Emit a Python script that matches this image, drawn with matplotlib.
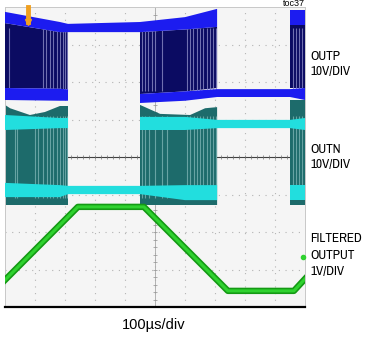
import numpy as np
import matplotlib.pyplot as plt
from matplotlib import font_manager
from matplotlib.font_manager import FontProperties

# time in microseconds (100us/div, 10 div), levels in screen divisions (8 div)
nan = np.nan

# OUTP (10V/div): high rail band, low rail band, switching fill
outp_hi_t = [0, 183, 210, 450, 600, 707, 830, 950, 1000]
outp_hi_top = [7.87, 7.60, 7.55, 7.60, 7.73, 7.95, nan, 7.92, 7.92]
outp_hi_bot = [7.57, 7.33, 7.33, 7.33, 7.40, 7.47, nan, 7.52, 7.52]
outp_lo_t = [0, 183, 210, 330, 450, 600, 707, 950, 1000]
outp_lo_top = [5.84, 5.82, 5.80, nan, 5.68, 5.75, 5.81, 5.81, 5.84]
outp_lo_bot = [5.52, 5.50, 5.50, nan, 5.44, 5.50, 5.60, 5.60, 5.52]
outp_fill_t = [0, 183, 210, 330, 450, 600, 707, 830, 950, 1000]
outp_fill_top = [7.57, 7.33, 7.33, nan, 7.33, 7.40, 7.47, nan, 7.52, 7.52]
outp_fill_bot = [5.84, 5.82, 5.80, nan, 5.68, 5.75, 5.84, nan, 5.84, 5.84]

# OUTN (10V/div)
outn_hi_t = [0, 183, 210, 330, 450, 600, 707, 950, 1000]
outn_hi_top = [5.12, 5.04, 5.04, nan, 5.07, 5.07, 4.99, 4.99, 5.04]
outn_hi_bot = [4.72, 4.77, 4.77, nan, 4.72, 4.72, 4.77, 4.77, 4.72]
outn_lo_t = [0, 183, 210, 450, 600, 707, 830, 950, 1000]
outn_lo_top = [3.31, 3.25, 3.23, 3.23, 3.25, 3.25, nan, 3.25, 3.25]
outn_lo_bot = [2.93, 2.93, 3.01, 3.01, 2.85, 2.85, nan, 2.85, 2.85]
outn_fill_t = [0, 17, 83, 133, 183, 210, 330, 450, 517, 617, 667, 707, 830, 950, 1000]
outn_fill_top = [5.39, 5.30, 5.12, 5.20, 5.36, 5.36, nan, 5.39, 5.15, 5.12, 5.30, 5.33, nan, 5.52, 5.52]
outn_fill_bot = [2.72, 2.72, 2.72, 2.72, 2.72, 2.72, nan, 2.72, 2.72, 2.72, 2.72, 2.72, nan, 2.72, 2.72]

# visible thin pulses (lighter stripes) in the switching regions
stripe_t = [13, 127, 137, 150, 160, 173, 183, 193, 200, 207,
            457, 467, 477, 490, 500, 523, 607, 617, 627, 640, 650, 660,
            673, 683, 693, 703, 960, 970, 980, 990]
outn_stripe_t = [33, 40, 100, 110, 127, 140, 150, 160, 173, 183, 193, 200, 207,
                 457, 467, 480, 500, 523, 540, 607, 617, 630, 640, 650, 660,
                 673, 683, 693, 703, 960, 970, 980, 990]

# filtered output (1V/div)
filt_t = [0, 243, 463, 743, 963, 1000]
filt_d = [0.72, 2.67, 2.67, 0.43, 0.43, 0.75]

# the scope labels use a narrow sans; look for one, else shrink the regular one
narrow_file = None
for f in font_manager.fontManager.ttflist:
    if 'Narrow' in f.name and f.style == 'normal' and f.weight in (400, 'normal', 'regular'):
        narrow_file = f.fname
        break
if narrow_file is None:
    for f in font_manager.fontManager.ttflist:
        if f.name in ('DejaVu Sans', 'Noto Sans', 'Open Sans', 'Roboto') and 'ondensed' in str(f.stretch) \
                and f.style == 'normal' and f.weight in (400, 'normal', 'regular'):
            narrow_file = f.fname
            break
if narrow_file:
    lab_font = FontProperties(fname=narrow_file, size=9.5)
else:
    lab_font = FontProperties(family='Liberation Sans', size=8.3)
bot_font = FontProperties(family='Liberation Sans', size=10.5)
toc_font = FontProperties(family='Liberation Sans', size=6.5)

W, H = 365, 337
fig = plt.figure(figsize=(W / 100, H / 100), dpi=100)
ax = fig.add_axes([5 / W, 30 / H, 300 / W, 300 / H])
ax.set_facecolor('#f5f5f5')
ax.set_xlim(0, 1000)
ax.set_ylim(0, 8)
ax.set_xticks([])
ax.set_yticks([])
for s in ['left', 'top', 'right']:
    ax.spines[s].set_color('#c8c8c8')
    ax.spines[s].set_linewidth(0.7)
ax.spines['bottom'].set_color('black')
ax.spines['bottom'].set_linewidth(1.6)

# graticule
for x in range(100, 1000, 100):
    ax.axvline(x, color='#b4b4b4', lw=0.8, ls=(0, (1, 5)), zorder=1)
for y in range(1, 8):
    ax.axhline(y, color='#b4b4b4', lw=0.8, ls=(0, (1, 5)), zorder=1)
ax.axhline(4, color='#404040', lw=0.8, zorder=1)
ax.axvline(500, color='#a8a8a8', lw=0.6, zorder=1)
ax.plot(np.arange(20, 1000, 20), np.full(49, 4), '|', color='#707070', ms=2.2, mew=0.5, zorder=1)
ax.plot(np.full(39, 500), np.arange(0.2, 8, 0.2), '_', color='#909090', ms=2.2, mew=0.5, zorder=1)

# OUTN
ax.fill_between(outn_fill_t, outn_fill_bot, outn_fill_top, color='#1d6b6b', lw=0, zorder=2)
ax.vlines(outn_stripe_t, 2.9, 5.1, color='#7ab2b2', lw=0.8, alpha=0.8, zorder=2)
ax.fill_between(outn_hi_t, outn_hi_bot, outn_hi_top, color='#22dede', lw=0, zorder=3)
ax.fill_between(outn_lo_t, outn_lo_bot, outn_lo_top, color='#22dede', lw=0, zorder=3)

# OUTP
ax.fill_between(outp_fill_t, outp_fill_bot, outp_fill_top, color='#0b0b62', lw=0, zorder=4)
ax.vlines(stripe_t, 5.75, 7.45, color='#8a8ac4', lw=0.8, alpha=0.8, zorder=4)
ax.fill_between(outp_hi_t, outp_hi_bot, outp_hi_top, color='#1c1cf0', lw=0, zorder=5)
ax.fill_between(outp_lo_t, outp_lo_bot, outp_lo_top, color='#1c1cf0', lw=0, zorder=5)

# filtered output
ax.plot(filt_t, filt_d, color='#149a14', lw=4.6, solid_joinstyle='round', zorder=6)
ax.plot(filt_t, filt_d, color='#2fd22f', lw=2.2, solid_joinstyle='round', zorder=7)
ax.plot([993], [1.33], 'o', color='#2fd22f', ms=3, clip_on=False, zorder=8)

# trigger marker
ax.plot([77, 77], [7.6, 8.0], color='#f0a020', lw=3.5, clip_on=False, zorder=8)
ax.plot([77], [7.6], 'v', color='#f0a020', ms=4, clip_on=False, zorder=8)


def label(x, y, s, fp, ha='left'):
    fig.text(x / W, 1 - y / H, s, fontproperties=fp, ha=ha, va='baseline')


label(310, 60, 'OUTP', lab_font)
label(310, 75, '10V/DIV', lab_font)
label(310, 153, 'OUTN', lab_font)
label(310, 168, '10V/DIV', lab_font)
label(310, 242, 'FILTERED', lab_font)
label(310, 259, 'OUTPUT', lab_font)
label(310, 275, '1V/DIV', lab_font)
label(154, 329, '100µs/div', bot_font, ha='center')
label(305, 6.5, 'toc37', toc_font, ha='right')

fig.savefig('out.png', dpi=100)
